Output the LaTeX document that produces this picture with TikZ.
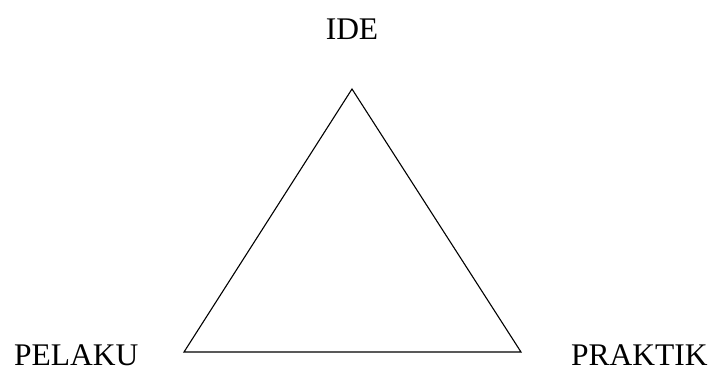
\documentclass[tikz,border=0pt]{standalone}
\usepackage{fontspec}
\setmainfont{Liberation Serif}
\usepackage{tikz}
\usetikzlibrary{positioning}

\begin{document}
\begin{tikzpicture}[
  x=1pt, y=-1pt,
  every node/.style={inner sep=0pt, text depth=0pt, font=\fontsize{31.5}{36}\selectfont},
  edge/.style={line width=1.1pt, black},
]
  \useasboundingbox (0,0) rectangle (711,367);

  % corners of the triangle
  \coordinate (top) at (352,89);
  \coordinate (left) at (184,352);
  \coordinate (right) at (521,352);

  \node[anchor=base] (ide) at (352,39) {IDE};
  \node[anchor=base west] (pelaku) at (14,365) {PELAKU};
  \node[anchor=base west] (praktik) at (571,365) {PRAKTIK};

  \draw[edge] (top) -- (left) -- (right) -- cycle;
\end{tikzpicture}
\end{document}
